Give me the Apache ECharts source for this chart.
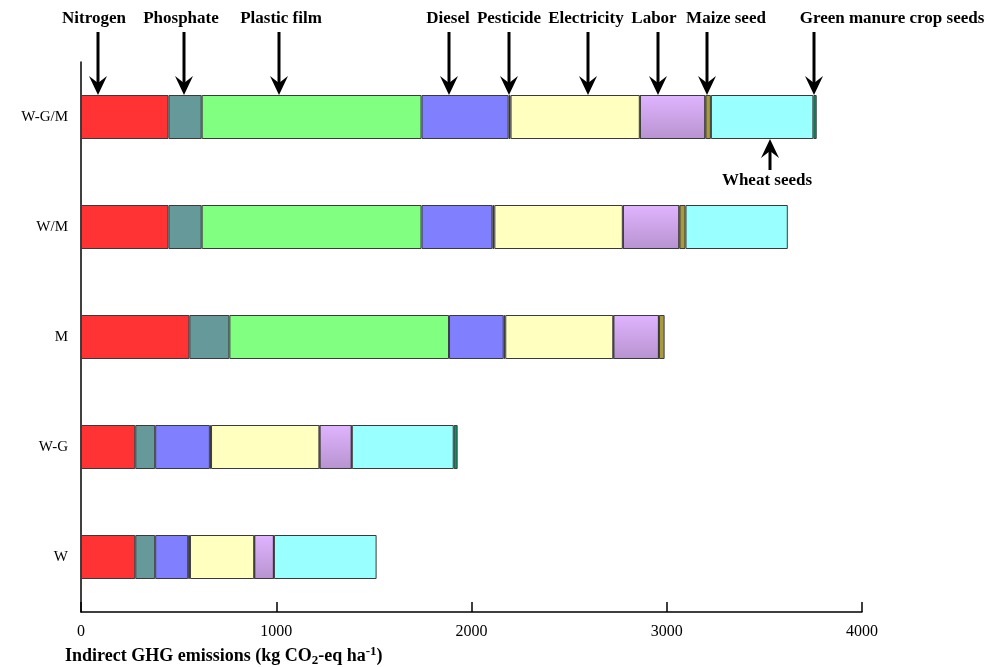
<!DOCTYPE html>
<html>
<head>
<meta charset="utf-8">
<script src="https://cdn.jsdelivr.net/npm/echarts@6/dist/echarts.min.js"></script>
<style>
  html, body { margin: 0; padding: 0; background: #fff; }
  #chart { width: 1003px; height: 667px; }
</style>
</head>
<body>
<div id="chart"></div>
<script>
// Cropping systems, listed top to bottom
const systems = ['W-G/M', 'W/M', 'M', 'W-G', 'W'];

// Indirect GHG emissions by input source (kg CO2-eq ha-1), one value per system
const nitrogen    = [448, 448, 555, 278, 278];
const phosphate   = [170, 170, 205, 102, 102];
const plasticFilm = [1126, 1126, 1125, 0, 0];
const diesel      = [446, 363, 280, 280, 169];
const pesticide   = [10, 10, 8, 6, 9];
const electricity = [662, 658, 553, 555, 329];
const labor       = [336, 290, 234, 166, 101];
const maizeSeed   = [28, 31, 29, 0, 0];
const wheatSeeds  = [525, 524, 0, 522, 526];
const greenManure = [17, 0, 0, 20, 0];

const xTicks = [0, 1000, 2000, 3000, 4000];

const SERIF = '"Liberation Serif", "DejaVu Serif", serif';

const sources = [
  { name: 'Nitrogen', data: nitrogen, color: '#ff3333' },
  { name: 'Phosphate', data: phosphate, color: '#669999' },
  { name: 'Plastic film', data: plasticFilm, color: '#80ff80' },
  { name: 'Diesel', data: diesel, color: '#8080ff' },
  { name: 'Pesticide', data: pesticide, color: '#111111' },
  { name: 'Electricity', data: electricity, color: '#ffffc0' },
  { name: 'Labor', data: labor, color: {
      type: 'linear', x: 0, y: 0, x2: 0, y2: 1,
      colorStops: [{ offset: 0, color: '#e0b4ff' }, { offset: 1, color: '#b793cf' }] } },
  { name: 'Maize seed', data: maizeSeed, color: '#a89a40' },
  { name: 'Wheat seeds', data: wheatSeeds, color: '#99ffff' },
  { name: 'Green manure crop seeds', data: greenManure, color: '#009966' }
];

const chart = echarts.init(document.getElementById('chart'), null, { renderer: 'canvas' });

const series = sources.map(s => ({
  name: s.name,
  type: 'bar',
  stack: 'total',
  barWidth: 44,
  data: s.data.map(v => (v === 0 ? null : v)),
  itemStyle: { color: s.color, borderColor: '#3a3a3a', borderWidth: 1 },
  emphasis: { disabled: true },
  animation: false
}));

chart.setOption({
  backgroundColor: '#fff',
  animation: false,
  grid: { left: 81, right: 141, top: 62, bottom: 55, containLabel: false },
  xAxis: {
    type: 'value',
    min: xTicks[0],
    max: xTicks[xTicks.length - 1],
    interval: xTicks[1] - xTicks[0],
    axisLine: { show: true, lineStyle: { color: '#000', width: 1.5 } },
    axisTick: { show: true, inside: true, length: 10, lineStyle: { color: '#000', width: 1.5 } },
    axisLabel: { color: '#000', fontFamily: SERIF, fontSize: 16, margin: 12, formatter: v => String(v) },
    splitLine: { show: false }
  },
  yAxis: {
    type: 'category',
    inverse: true,
    data: systems,
    axisLine: { show: true, lineStyle: { color: '#000', width: 1.5 } },
    axisTick: { show: false },
    axisLabel: { color: '#000', fontFamily: SERIF, fontSize: 15, margin: 13 }
  },
  series: series
});

// Arrow callouts: each points at a fraction of the way through one segment of a bar
const callouts = [
  { label: 'Nitrogen', source: 0, frac: 0.2, dx: -4 },
  { label: 'Phosphate', source: 1, frac: 0.46, dx: -3 },
  { label: 'Plastic film', source: 2, frac: 0.35, dx: 2 },
  { label: 'Diesel', source: 3, frac: 0.31, dx: -1 },
  { label: 'Pesticide', source: 4, frac: 0.0, dx: 0 },
  { label: 'Electricity', source: 5, frac: 0.6, dx: -2 },
  { label: 'Labor', source: 6, frac: 0.28, dx: -4 },
  { label: 'Maize seed', source: 7, frac: 0.3, dx: 19 },
  { label: 'Green manure crop seeds', source: 9, frac: 0.2, dx: 78 }
];
const belowCallout = { label: 'Wheat seeds', source: 8, frac: 0.58, dx: -3 };

function segmentValue(rowIdx, srcIdx, frac) {
  let start = 0;
  for (let i = 0; i < srcIdx; i++) start += sources[i].data[rowIdx];
  return start + sources[srcIdx].data[rowIdx] * frac;
}

const graphics = [];
const row = 0; // top bar (W-G/M)
const barTop = chart.convertToPixel({ yAxisIndex: 0 }, systems[row]) - 22;
const barBottom = barTop + 44;

function arrowHead(x, tipY, dir) {
  // dir = 1 points down, -1 points up
  return {
    type: 'polygon',
    shape: { points: [[x, tipY], [x - 9, tipY - dir * 19], [x, tipY - dir * 12], [x + 9, tipY - dir * 19]] },
    style: { fill: '#000' }
  };
}

callouts.forEach(c => {
  const x = Math.round(chart.convertToPixel({ xAxisIndex: 0 }, segmentValue(row, c.source, c.frac)));
  graphics.push({
    type: 'line',
    shape: { x1: x, y1: 32, x2: x, y2: barTop - 8 },
    style: { stroke: '#000', lineWidth: 3 }
  });
  graphics.push(arrowHead(x, barTop, 1));
  graphics.push({
    type: 'text',
    x: x + c.dx, y: 19,
    style: {
      text: c.label, fill: '#000', font: 'bold 17px ' + SERIF,
      textAlign: 'center', textVerticalAlign: 'middle'
    }
  });
});

(function () {
  const c = belowCallout;
  const x = Math.round(chart.convertToPixel({ xAxisIndex: 0 }, segmentValue(row, c.source, c.frac)));
  graphics.push({
    type: 'line',
    shape: { x1: x, y1: barBottom + 8, x2: x, y2: barBottom + 31 },
    style: { stroke: '#000', lineWidth: 3 }
  });
  graphics.push(arrowHead(x, barBottom, -1));
  graphics.push({
    type: 'text',
    x: x + c.dx, y: barBottom + 42,
    style: {
      text: c.label, fill: '#000', font: 'bold 17px ' + SERIF,
      textAlign: 'center', textVerticalAlign: 'middle'
    }
  });
})();

// Axis title with subscript and superscript
graphics.push({
  type: 'text',
  left: 65, top: 645,
  style: {
    text: '{t|Indirect GHG emissions (kg CO}{sub|2}{t|-eq ha}{sup|-1}{t|)}',
    fill: '#000',
    rich: {
      t: { fontFamily: SERIF, fontWeight: 'bold', fontSize: 18, lineHeight: 22, verticalAlign: 'middle' },
      sub: { fontFamily: SERIF, fontWeight: 'bold', fontSize: 13, lineHeight: 22, verticalAlign: 'bottom', padding: [7, 0, 0, 0] },
      sup: { fontFamily: SERIF, fontWeight: 'bold', fontSize: 13, lineHeight: 22, verticalAlign: 'top', padding: [0, 0, 7, 0] }
    }
  }
});

chart.setOption({ graphic: graphics });
</script>
</body>
</html>
